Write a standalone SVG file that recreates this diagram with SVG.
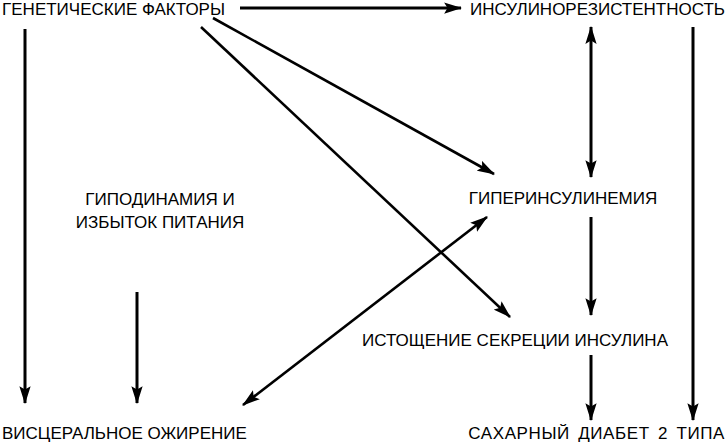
<svg xmlns="http://www.w3.org/2000/svg" width="726" height="443" viewBox="0 0 726 443">
<defs>
<marker id="ah" markerUnits="userSpaceOnUse" markerWidth="18" markerHeight="12" viewBox="0 0 16 10" refX="15" refY="5" orient="auto-start-reverse">
<path d="M0,0 L16,5 L0,10 L3,5 z" fill="#000"/>
</marker>
<style>
text{font-family:"Liberation Sans",Arial,Helvetica,sans-serif;font-size:17px;fill:#000}
.c line{stroke:#000;stroke-width:3;fill:none}
.c line.d{stroke-width:2.6}
</style>
</defs>
<rect width="726" height="443" fill="#fff"/>
<g id="n-genetic"><text x="225" y="15" text-anchor="end">ГЕНЕТИЧЕСКИЕ ФАКТОРЫ</text></g>
<g id="n-insres"><text x="725" y="15" text-anchor="end">ИНСУЛИНОРЕЗИСТЕНТНОСТЬ</text></g>
<g id="n-hypodyn"><text x="160" y="205" text-anchor="middle">ГИПОДИНАМИЯ И</text><text x="160" y="228" text-anchor="middle">ИЗБЫТОК ПИТАНИЯ</text></g>
<g id="n-hyperins"><text x="563" y="204" text-anchor="middle">ГИПЕРИНСУЛИНЕМИЯ</text></g>
<g id="n-exhaust"><text x="515" y="346" text-anchor="middle">ИСТОЩЕНИЕ СЕКРЕЦИИ ИНСУЛИНА</text></g>
<g id="n-visceral"><text x="2" y="439">ВИСЦЕРАЛЬНОЕ ОЖИРЕНИЕ</text></g>
<g id="n-diabetes"><text x="725" y="439" text-anchor="end" word-spacing="3" letter-spacing="0.6">САХАРНЫЙ ДИАБЕТ 2 ТИПА</text></g>
<g id="connectors" class="c">
<line x1="240" y1="8" x2="461" y2="8" marker-end="url(#ah)"/>
<line x1="25" y1="29" x2="25" y2="403" marker-end="url(#ah)"/>
<line x1="137" y1="292" x2="137" y2="403" marker-end="url(#ah)"/>
<line x1="591" y1="27" x2="591" y2="177" marker-start="url(#ah)" marker-end="url(#ah)"/>
<line x1="693" y1="27" x2="693" y2="420" marker-end="url(#ah)"/>
<line x1="591" y1="217" x2="591" y2="315" marker-end="url(#ah)"/>
<line x1="591" y1="355" x2="591" y2="420" marker-end="url(#ah)"/>
<line class="d" x1="213" y1="18" x2="494" y2="174" marker-end="url(#ah)"/>
<line class="d" x1="201" y1="27" x2="510" y2="317" marker-end="url(#ah)"/>
<line class="d" x1="487" y1="217" x2="243" y2="405" marker-start="url(#ah)" marker-end="url(#ah)"/>
</g>
</svg>
